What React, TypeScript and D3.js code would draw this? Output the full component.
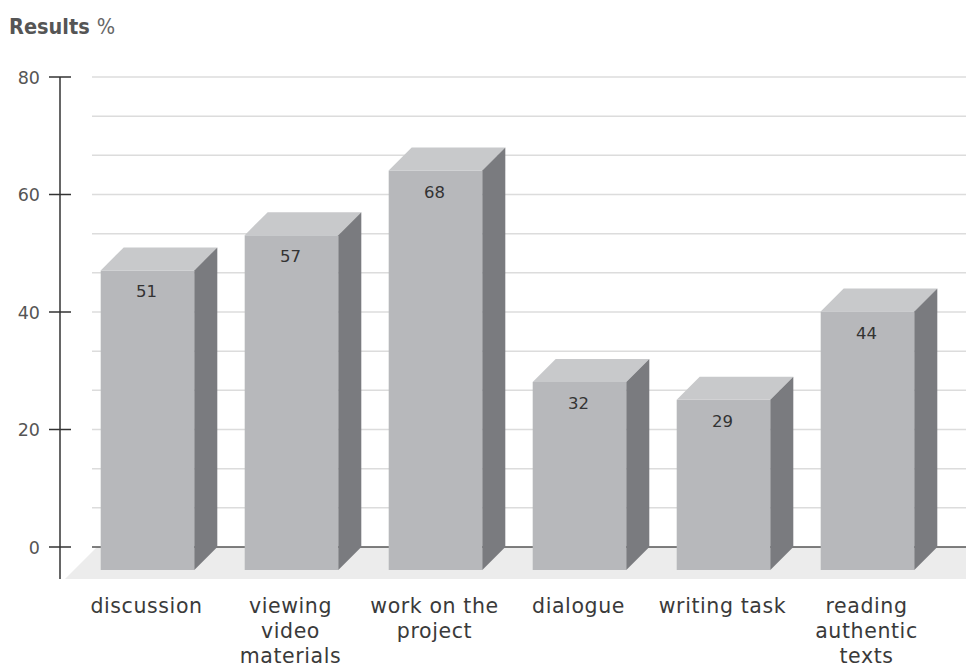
import React from "react";
import * as d3 from "d3";

const categories: string[][] = [
  ["discussion"],
  ["viewing", "video", "materials"],
  ["work on the", "project"],
  ["dialogue"],
  ["writing task"],
  ["reading", "authentic", "texts"],
];
const values: number[] = [51, 57, 68, 32, 29, 44];
const majorTicks: number[] = [0, 20, 40, 60, 80];
const gridTicks: number[] = d3.range(0, 13).map((i) => (i * 80) / 12);

const W = 966;
const H = 671;
const D = 23;
const FLOOR = 32;

export default function App() {
  const keys = categories.map((c) => c.join(" "));
  const y = d3.scaleLinear().domain([0, 80]).range([547, 77]);
  const x = d3
    .scaleBand<string>()
    .domain(keys)
    .range([98.5, 962.5])
    .paddingInner(0.35)
    .paddingOuter(0.175);
  const w = x.bandwidth();
  const y0 = y(0);
  const font = "'DejaVu Sans', sans-serif";

  const floor = [
    [97, y0],
    [1000, y0],
    [1000 - FLOOR, y0 + FLOOR],
    [97 - FLOOR, y0 + FLOOR],
  ];

  return (
    <svg
      width={W}
      height={H}
      style={{ position: "absolute", left: 0, top: 0, background: "#fff" }}
    >
      <text x={9} y={34} fontFamily="'DejaVu Sans Condensed', 'DejaVu Sans', sans-serif" fontSize={21.5}>
        <tspan fontWeight="bold" fill="#555">Results</tspan>
        <tspan fill="#666" dx={7}>%</tspan>
      </text>

      {/* floor */}
      <polygon points={floor.map((p) => p.join(",")).join(" ")} fill="#ececec" />

      {/* grid lines */}
      {gridTicks
        .filter((t) => t > 0)
        .map((t, i) => (
          <line key={i} x1={92} x2={W} y1={y(t)} y2={y(t)} stroke="#dcdcdc" strokeWidth={1.5} />
        ))}
      <line x1={92} x2={W} y1={y0} y2={y0} stroke="#555" strokeWidth={1.5} />

      {/* y axis */}
      <line x1={60} x2={60} y1={y(80)} y2={y0 + FLOOR} stroke="#333" strokeWidth={1.5} />
      {majorTicks.map((t) => (
        <g key={t}>
          <line x1={49} x2={71} y1={y(t)} y2={y(t)} stroke="#333" strokeWidth={1.5} />
          <text
            x={40}
            y={y(t) + 6.5}
            textAnchor="end"
            fontFamily={font}
            fontSize={17.5}
            fill="#555"
          >
            {t}
          </text>
        </g>
      ))}

      {/* bars */}
      {values.map((v, i) => {
        const xb = x(keys[i]) as number;
        const yt = y(v);
        const fx = xb - D;
        const front = `${fx},${yt + D} ${fx + w},${yt + D} ${fx + w},${y0 + D} ${fx},${y0 + D}`;
        const top = `${fx},${yt + D} ${xb},${yt} ${xb + w},${yt} ${fx + w},${yt + D}`;
        const side = `${fx + w},${yt + D} ${xb + w},${yt} ${xb + w},${y0} ${fx + w},${y0 + D}`;
        return (
          <g key={i}>
            <polygon points={front} fill="#b7b8bb" />
            <polygon points={top} fill="#c8c9cb" />
            <polygon points={side} fill="#7a7b7f" />
            <text
              x={fx + w / 2 - 1}
              y={yt + D + 27}
              textAnchor="middle"
              fontFamily={font}
              fontSize={16.5}
              fill="#333"
            >
              {v}
            </text>
          </g>
        );
      })}

      {/* category labels */}
      {categories.map((lines, i) => {
        const cx = (x(keys[i]) as number) - D + w / 2 - 1;
        return (
          <text
            key={i}
            textAnchor="middle"
            fontFamily={font}
            fontSize={20.5}
            letterSpacing={0.6}
            fill="#3a3a3a"
          >
            {lines.map((l, j) => (
              <tspan key={j} x={cx} y={613 + j * 25}>
                {l}
              </tspan>
            ))}
          </text>
        );
      })}
    </svg>
  );
}
